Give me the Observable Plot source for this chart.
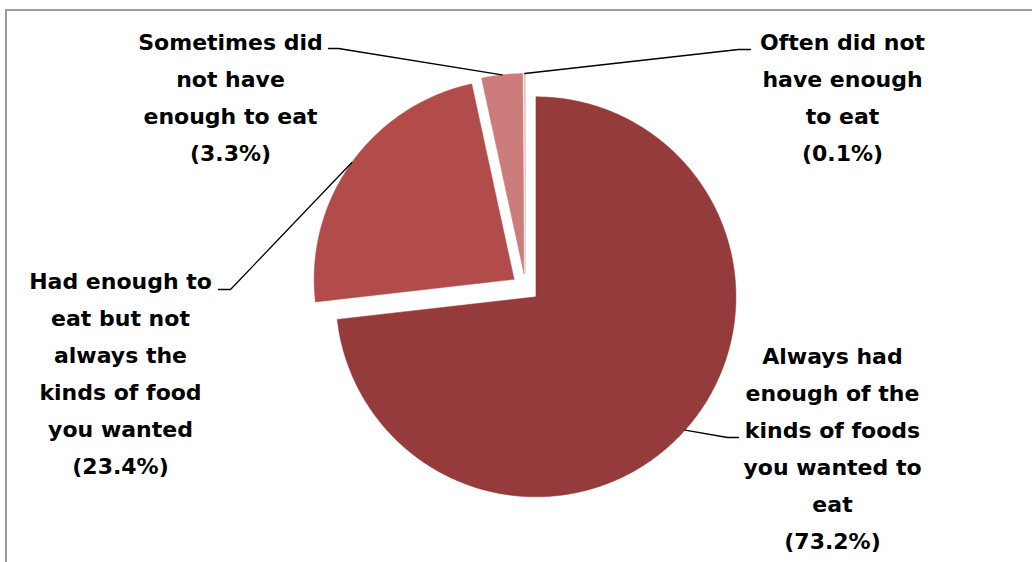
<!DOCTYPE html>
<html>
<head>
<meta charset="utf-8">
<script src="https://cdn.jsdelivr.net/npm/d3@7"></script>
<script src="https://cdn.jsdelivr.net/npm/@observablehq/plot@0.6"></script>
<style>
  html, body { margin: 0; padding: 0; background: #fff; overflow: hidden; }
  #wrap { position: relative; width: 1032px; height: 562px; }
  #frame { position: absolute; left: 5px; top: 9px; width: 1100px; height: 600px; border: 2px solid #9c9c9c; box-sizing: border-box; }
  #chart { position: absolute; left: 0; top: 0; }
</style>
</head>
<body>
<div id="wrap"><div id="frame"></div><div id="chart"></div></div>
<script>
// ---- data ----
const categories = [
  "Always had enough of the kinds of foods you wanted to eat",
  "Had enough to eat but not always the kinds of food you wanted",
  "Sometimes did not have enough to eat",
  "Often did not have enough to eat"
];
const values = [73.2, 23.4, 3.3, 0.1];
const labelLines = [
  ["Always had", "enough of the", "kinds of foods", "you wanted to", "eat", "(73.2%)"],
  ["Had enough to", "eat but not", "always the", "kinds of food", "you wanted", "(23.4%)"],
  ["Sometimes did", "not have", "enough to eat", "(3.3%)"],
  ["Often did not", "have enough", "to eat", "(0.1%)"]
];
const colors = ["#953B3B", "#B24C4A", "#CB7C7B", "#E8BCBB"];

// ---- layout (pixels) ----
const W = 1032, H = 562;
const cx = 525, cy = 287, R = 200, explode = 14;
const lineGap = 37;
const labelLayout = [
  {x: 832, y: 356, start: [738, 437], elbow: [727, 437]},
  {x: 120, y: 281, start: [218, 289], elbow: [230, 289]},
  {x: 230, y: 42,  start: [328, 48],  elbow: [338, 48]},
  {x: 842, y: 42,  start: [750, 49],  elbow: [738, 49]}
];

const total = d3.sum(values);
let cum = 0;
const slices = values.map((v, i) => {
  const a0 = cum / total * 2 * Math.PI;
  cum += v;
  const a1 = cum / total * 2 * Math.PI;
  const mid = (a0 + a1) / 2;
  const ox = cx + explode * Math.sin(mid), oy = cy - explode * Math.cos(mid);
  return {i, a0, a1, mid, ox, oy};
});

const pt = (s, a, r) => ({x: s.ox + r * Math.sin(a), y: s.oy - r * Math.cos(a)});

const marks = [];
slices.forEach(s => {
  const pts = [{x: s.ox, y: s.oy}];
  const n = Math.max(2, Math.ceil((s.a1 - s.a0) / (Math.PI / 360)));
  for (let k = 0; k <= n; k++) pts.push(pt(s, s.a0 + (s.a1 - s.a0) * k / n, R));
  pts.push({x: s.ox, y: s.oy});
  marks.push(Plot.line(pts, {x: "x", y: "y", fill: colors[s.i], stroke: colors[s.i], strokeWidth: 0.5, curve: "linear"}));
});

// leader lines
slices.forEach(s => {
  const L = labelLayout[s.i];
  const end = pt(s, s.mid, R);
  const pts = [{x: L.start[0], y: L.start[1]}, {x: L.elbow[0], y: L.elbow[1]}, end];
  marks.push(Plot.line(pts, {x: "x", y: "y", stroke: "#000", strokeWidth: 1.3}));
});

// labels
const textRows = [];
labelLines.forEach((lines, i) => {
  lines.forEach((t, j) => textRows.push({t, x: labelLayout[i].x, y: labelLayout[i].y + j * lineGap}));
});
marks.push(Plot.text(textRows, {x: "x", y: "y", text: "t", textAnchor: "middle", lineAnchor: "middle",
  fill: "#000", fontSize: 22, fontWeight: "bold", fontFamily: "DejaVu Sans"}));

const chart = Plot.plot({
  width: W, height: H, margin: 0,
  x: {domain: [0, W], range: [0, W], axis: null},
  y: {domain: [0, H], range: [0, H], axis: null},
  style: {background: "transparent"},
  marks
});
document.getElementById("chart").appendChild(chart);
</script>
</body>
</html>
